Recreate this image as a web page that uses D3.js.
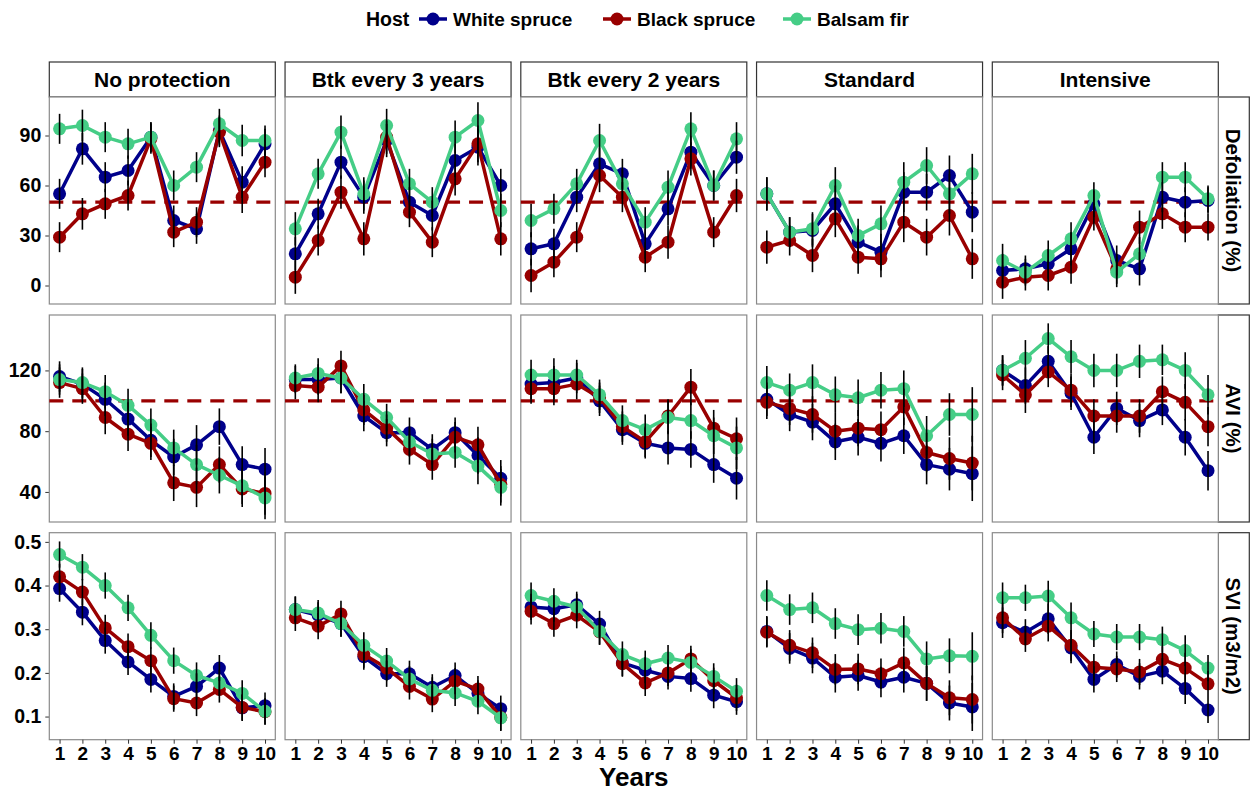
<!DOCTYPE html>
<html>
<head>
<meta charset="utf-8">
<script src="https://cdn.jsdelivr.net/npm/d3@7"></script>
<style>
  body { margin: 0; background: #fff; }
  text { font-family: "Liberation Sans", Arial, sans-serif; font-weight: bold; }
</style>
</head>
<body>
<div id="chart"></div>
<script>
// ---- data ----
var years = [1, 2, 3, 4, 5, 6, 7, 8, 9, 10];
var hosts = ["White spruce", "Black spruce", "Balsam fir"];
var hostColors = ["#00008B", "#990000", "#45CD86"];
var treatments = ["No protection", "Btk every 3 years", "Btk every 2 years", "Standard", "Intensive"];
var metrics = ["Defoliation (%)", "AVI (%)", "SVI (m3/m2)"];
var defTicks = [0, 30, 60, 90];
var aviTicks = [40, 80, 120];
var sviTicks = [0.1, 0.2, 0.3, 0.4, 0.5];
var refLines = [50, 100, null];

// Defoliation (%) – one array per treatment
var defWhite = [
  [55, 82, 65, 69, 89, 39, 34, 93, 62, 85],
  [19, 43, 74, 53, 87, 50, 42, 75, 83, 60],
  [22, 25, 53, 73, 67, 25, 46, 80, 60, 77],
  [55, 32, 33, 49, 26, 20, 56, 56, 66, 44],
  [9, 10, 13, 22, 49, 15, 10, 53, 50, 51]
];
var defBlack = [
  [29, 43, 49, 54, 88, 32, 38, 92, 53, 74],
  [5, 27, 56, 28, 89, 44, 26, 64, 85, 28],
  [6, 14, 29, 66, 53, 17, 26, 76, 32, 54],
  [23, 27, 18, 40, 17, 16, 38, 29, 42, 16],
  [2, 5, 6, 11, 41, 10, 35, 43, 35, 35]
];
var defBalsam = [
  [94, 96, 89, 85, 89, 60, 71, 97, 87, 87],
  [34, 67, 92, 55, 96, 61, 50, 89, 99, 45],
  [39, 46, 61, 87, 61, 38, 59, 94, 60, 88],
  [55, 32, 34, 60, 30, 37, 62, 72, 55, 67],
  [15, 8, 18, 28, 54, 8, 19, 65, 65, 52]
];
var defErr = [
  [9, 9.5, 9, 9, 9, 9, 9, 9, 9.5, 9],
  [10, 9, 10, 10, 10, 9, 9, 10, 11, 10],
  [10, 9, 9, 10, 9, 9, 10, 10, 9, 10],
  [10, 9, 10, 11, 10, 11, 12, 11, 12, 12],
  [10, 8, 9, 10, 8, 9, 10, 9, 9, 8]
];

// AVI (%)
var aviWhite = [
  [116, 111, 101, 88, 74, 63, 71, 83, 58, 55],
  [114, 114, 115, 90, 79, 79, 68, 79, 64, 49],
  [111, 112, 115, 100, 81, 72, 69, 68, 58, 49],
  [101, 91, 86, 73, 76, 72, 77, 58, 55, 52],
  [120, 110, 126, 105, 76, 95, 87, 94, 76, 54]
];
var aviBlack = [
  [112, 108, 89, 78, 72, 46, 43, 58, 42, 39],
  [110, 109, 123, 94, 82, 68, 58, 76, 71, 45],
  [108, 108, 111, 102, 83, 73, 90, 109, 82, 75],
  [99, 95, 91, 80, 82, 81, 96, 66, 62, 59],
  [117, 104, 119, 107, 90, 90, 90, 106, 99, 83]
];
var aviBalsam = [
  [114, 112, 106, 97, 84, 69, 58, 51, 44, 36],
  [115, 118, 115, 101, 89, 73, 65, 66, 57, 43],
  [117, 117, 117, 104, 87, 81, 89, 87, 77, 69],
  [112, 107, 112, 104, 102, 107, 108, 77, 91, 91],
  [120, 128, 141, 129, 120, 120, 126, 127, 120, 104]
];
var aviErr = [
  [10, 10, 11, 11, 11, 12, 13, 12, 12, 14],
  [9, 10, 10, 10, 9, 10, 10, 10, 12, 12],
  [10, 11, 10, 10, 10, 10, 11, 12, 12, 14],
  [11, 11, 12, 12, 12, 12, 12, 13, 14, 18],
  [10, 12, 10, 11, 11, 11, 11, 10, 12, 13]
];

// SVI (m3/m2)
var sviWhite = [
  [0.393, 0.339, 0.274, 0.225, 0.185, 0.146, 0.169, 0.211, 0.120, 0.125],
  [0.345, 0.332, 0.313, 0.237, 0.198, 0.198, 0.167, 0.194, 0.153, 0.118],
  [0.351, 0.347, 0.356, 0.312, 0.223, 0.206, 0.192, 0.187, 0.149, 0.134],
  [0.295, 0.256, 0.234, 0.190, 0.194, 0.179, 0.190, 0.176, 0.131, 0.122],
  [0.315, 0.293, 0.324, 0.257, 0.185, 0.219, 0.192, 0.204, 0.164, 0.115]
];
var sviBlack = [
  [0.420, 0.385, 0.303, 0.260, 0.228, 0.141, 0.131, 0.162, 0.121, 0.111],
  [0.326, 0.307, 0.335, 0.242, 0.211, 0.169, 0.140, 0.181, 0.163, 0.098],
  [0.341, 0.313, 0.332, 0.294, 0.221, 0.177, 0.200, 0.232, 0.182, 0.143],
  [0.293, 0.263, 0.246, 0.208, 0.209, 0.198, 0.223, 0.176, 0.143, 0.139],
  [0.326, 0.278, 0.307, 0.263, 0.213, 0.209, 0.202, 0.231, 0.211, 0.175]
];
var sviBalsam = [
  [0.471, 0.442, 0.400, 0.349, 0.286, 0.228, 0.194, 0.177, 0.153, 0.112],
  [0.345, 0.337, 0.313, 0.263, 0.227, 0.186, 0.160, 0.154, 0.135, 0.097],
  [0.377, 0.364, 0.351, 0.295, 0.242, 0.221, 0.234, 0.224, 0.192, 0.158],
  [0.377, 0.345, 0.349, 0.313, 0.299, 0.302, 0.295, 0.232, 0.239, 0.238],
  [0.372, 0.372, 0.376, 0.326, 0.289, 0.282, 0.282, 0.276, 0.251, 0.211]
];
var sviErr = [
  [0.03, 0.03, 0.03, 0.03, 0.03, 0.03, 0.03, 0.03, 0.03, 0.03],
  [0.03, 0.03, 0.03, 0.03, 0.03, 0.03, 0.03, 0.03, 0.03, 0.03],
  [0.03, 0.03, 0.03, 0.03, 0.03, 0.03, 0.03, 0.03, 0.03, 0.03],
  [0.035, 0.035, 0.035, 0.035, 0.035, 0.035, 0.035, 0.04, 0.04, 0.055],
  [0.035, 0.03, 0.035, 0.035, 0.03, 0.03, 0.03, 0.03, 0.035, 0.03]
];

// per row: series for each host, errors, ticks, y domain
var rows = [
  { series: [defWhite, defBlack, defBalsam], err: defErr, ticks: defTicks, domain: [-11.1, 113.1], fmt: d3.format("d") },
  { series: [aviWhite, aviBlack, aviBalsam], err: aviErr, ticks: aviTicks, domain: [20.2, 156.5], fmt: d3.format("d") },
  { series: [sviWhite, sviBlack, sviBalsam], err: sviErr, ticks: sviTicks, domain: [0.047, 0.521], fmt: d3.format(".1f") }
];

function main()
{
  var width = 1250, height = 795;
  var svg = d3.select("#chart").append("svg")
    .attr("width", width)
    .attr("height", height);

  // panel layout
  var left = 49.3, panelW = 226, colStep = 235.75;
  var rowTops = [97, 315, 532.7], panelH = 207;
  var stripTop = 62, stripH = 35, stripW = 31;

  var x = d3.scaleLinear().domain([0.55, 10.45]).range([0, panelW]);

  // legend
  var legend = svg.append("g").attr("transform", "translate(0,19)");
  legend.append("text").attr("x", 366).attr("y", 7).attr("font-size", "19.5px").text("Host");
  var keyX = [433, 617, 797];
  hosts.forEach(function(h, i) {
    var g = legend.append("g").attr("transform", "translate(" + keyX[i] + ",0)");
    g.append("line").attr("x1", -14).attr("x2", 14).attr("y1", 0).attr("y2", 0)
      .attr("stroke", hostColors[i]).attr("stroke-width", 3.5);
    g.append("circle").attr("r", 6.5).attr("fill", hostColors[i]);
    g.append("text").attr("x", 20).attr("y", 7).attr("font-size", "19px").text(h);
  });

  // top strips
  treatments.forEach(function(t, c) {
    var sx = left + c * colStep;
    svg.append("rect").attr("x", sx).attr("y", stripTop).attr("width", panelW).attr("height", stripH)
      .attr("fill", "#fff").attr("stroke", "#333").attr("stroke-width", 1.2);
    svg.append("text").attr("x", sx + panelW / 2).attr("y", stripTop + stripH / 2 + 7.5)
      .attr("text-anchor", "middle").attr("font-size", "21px").text(t);
  });

  rows.forEach(function(row, r) {
    var top = rowTops[r];
    var y = d3.scaleLinear().domain(row.domain).range([top + panelH, top]);

    // right strip
    var rx = left + 4 * colStep + panelW;
    svg.append("rect").attr("x", rx).attr("y", top).attr("width", stripW).attr("height", panelH)
      .attr("fill", "#fff").attr("stroke", "#333").attr("stroke-width", 1.2);
    svg.append("text")
      .attr("transform", "translate(" + (rx + stripW / 2 - 7.5) + "," + (top + panelH / 2) + ") rotate(90)")
      .attr("text-anchor", "middle").attr("font-size", "20.5px").text(metrics[r]);

    // y axis on first column
    var yAxis = svg.append("g").attr("transform", "translate(" + left + ",0)")
      .call(d3.axisLeft(y).tickValues(row.ticks).tickFormat(row.fmt).tickSize(4).tickPadding(4));
    yAxis.select(".domain").remove();
    yAxis.selectAll("line").attr("stroke", "#333");
    yAxis.selectAll("text").attr("font-size", "19.5px").attr("fill", "#000")
      .attr("font-family", "Liberation Sans, Arial, sans-serif").attr("font-weight", "bold");

    treatments.forEach(function(t, c) {
      var px = left + c * colStep;
      var g = svg.append("g").attr("transform", "translate(" + px + ",0)");

      g.append("rect").attr("x", 0).attr("y", top).attr("width", panelW).attr("height", panelH)
        .attr("fill", "#fff").attr("stroke", "#8a8a8a").attr("stroke-width", 1.2);

      if (refLines[r] != null) {
        g.append("line").attr("x1", 0).attr("x2", panelW)
          .attr("y1", y(refLines[r])).attr("y2", y(refLines[r]))
          .attr("stroke", "#990000").attr("stroke-width", 3.2).attr("stroke-dasharray", "14,9");
      }

      var line = d3.line().x(function(d, i) { return x(years[i]); }).y(function(d) { return y(d); });

      row.series.forEach(function(s, h) {
        var vals = s[c];
        g.append("path").datum(vals).attr("d", line)
          .attr("fill", "none").attr("stroke", hostColors[h]).attr("stroke-width", 3.5)
          .attr("stroke-linejoin", "round");
        g.selectAll(".pt" + h).data(vals).enter().append("circle")
          .attr("cx", function(d, i) { return x(years[i]); })
          .attr("cy", function(d) { return y(d); })
          .attr("r", 6.5).attr("fill", hostColors[h]);
      });

      // error bars on top
      row.series.forEach(function(s, h) {
        var vals = s[c];
        g.selectAll(".eb" + h).data(vals).enter().append("line")
          .attr("x1", function(d, i) { return x(years[i]); })
          .attr("x2", function(d, i) { return x(years[i]); })
          .attr("y1", function(d, i) { return y(d - row.err[c][i]); })
          .attr("y2", function(d, i) { return y(d + row.err[c][i]); })
          .attr("stroke", "#000").attr("stroke-width", 1.6);
      });

      // x axis on bottom row
      if (r === 2) {
        var xAxis = g.append("g").attr("transform", "translate(0," + (top + panelH) + ")")
          .call(d3.axisBottom(x).tickValues(years).tickFormat(d3.format("d")).tickSize(4).tickPadding(3));
        xAxis.select(".domain").remove();
        xAxis.selectAll("line").attr("stroke", "#333");
        xAxis.selectAll("text").attr("font-size", "19px").attr("fill", "#000")
          .attr("font-family", "Liberation Sans, Arial, sans-serif").attr("font-weight", "bold");
      }
    });
  });

  // x title
  svg.append("text").attr("x", left + (4 * colStep + panelW) / 2).attr("y", 786)
    .attr("text-anchor", "middle").attr("font-size", "26px").text("Years");
}
main();
</script>
</body>
</html>
